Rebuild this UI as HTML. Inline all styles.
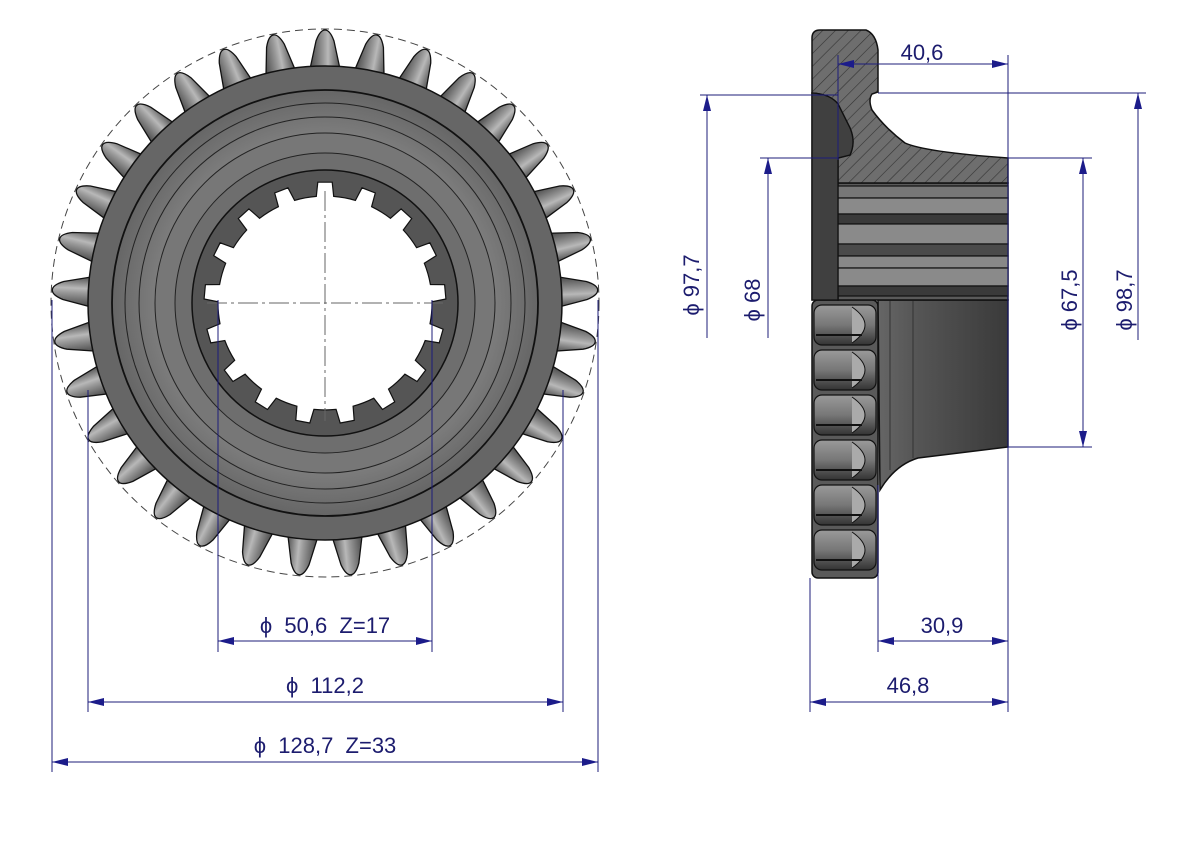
<!DOCTYPE html>
<html><head><meta charset="utf-8"><style>
html,body{margin:0;padding:0;background:#fff;}
svg{display:block;}
text{font-family:"Liberation Sans",sans-serif;fill:#1c1c6e;font-size:22px;}
</style></head><body>
<svg id="s" width="1191" height="842" viewBox="0 0 1191 842" xmlns="http://www.w3.org/2000/svg">
<defs>
<linearGradient id="tg" x1="0" x2="1" y1="0" y2="0">
<stop offset="0" stop-color="#4a4a4a"/><stop offset="0.45" stop-color="#9a9a9a"/><stop offset="0.6" stop-color="#b8b8b8"/><stop offset="1" stop-color="#505050"/></linearGradient>
<radialGradient id="bg" cx="0.5" cy="0.5" r="0.5">
<stop offset="0.5" stop-color="#6a6a6a"/><stop offset="0.8" stop-color="#7c7c7c"/><stop offset="1" stop-color="#666"/></radialGradient>
<linearGradient id="hub" x1="0" x2="1" y1="0" y2="0">
<stop offset="0" stop-color="#666"/><stop offset="0.3" stop-color="#555"/><stop offset="1" stop-color="#3a3a3a"/></linearGradient>
<linearGradient id="lobe" x1="0" x2="0" y1="0" y2="1">
<stop offset="0" stop-color="#9a9a9a"/><stop offset="0.5" stop-color="#777"/><stop offset="1" stop-color="#333"/></linearGradient>
<pattern id="hatch" width="9" height="9" patternUnits="userSpaceOnUse" patternTransform="rotate(45)">
<rect width="9" height="9" fill="#6e6e6e"/><line x1="0" y1="0" x2="0" y2="9" stroke="#333" stroke-width="1.2"/></pattern>
<path id="tooth" d="M-15,-234 L-9,-262 Q-5,-273 0,-273 Q5,-273 9,-262 L15,-234 Z" fill="url(#tg)" stroke="#111" stroke-width="1.3"/>
<marker id="a" viewBox="0 0 16 8" refX="16" refY="4" markerWidth="16" markerHeight="8" orient="auto-start-reverse" markerUnits="userSpaceOnUse"><path d="M0,0 L16,4 L0,8 Z" fill="#1c1c8a"/></marker>
</defs>

<g transform="translate(325,303)">
<circle r="274" fill="none" stroke="#444" stroke-width="1" stroke-dasharray="8,5"/>
<g id="teeth"></g>
<circle r="237" fill="#666" stroke="#111" stroke-width="1.5"/>
<circle r="213" fill="url(#bg)" stroke="#111" stroke-width="1.8"/>
<circle r="200" fill="none" stroke="#222" stroke-width="1"/>
<circle r="186" fill="none" stroke="#222" stroke-width="1"/>
<circle r="170" fill="#777" stroke="#222" stroke-width="1"/>
<circle r="150" fill="#6e6e6e" stroke="#222" stroke-width="1"/>
<circle r="133" fill="#555" stroke="#111" stroke-width="1.5"/>
<path id="bore" fill="#fff" stroke="#111" stroke-width="1.2"/>
<line x1="0" y1="-112" x2="0" y2="118" stroke="#666" stroke-width="1" stroke-dasharray="20,4,3,4"/>
<line x1="-118" y1="0" x2="118" y2="0" stroke="#666" stroke-width="1" stroke-dasharray="20,4,3,4"/>
</g>

<rect x="812" y="300" width="66" height="278" rx="6" fill="#5a5a5a" stroke="#111" stroke-width="1.5"/>
<g id="lobes"></g>
<path d="M878,300 L1008,300 L1008,447 L918,458 Q895,465 880,490 L878,300 Z" fill="url(#hub)" stroke="#111" stroke-width="1.5"/>
<line x1="890" y1="300" x2="890" y2="470" stroke="#333" stroke-width="1"/>
<line x1="913" y1="300" x2="913" y2="458" stroke="#333" stroke-width="1"/>
<rect x="812" y="93" width="26" height="207" fill="#3e3e3e" stroke="#111" stroke-width="1.5"/>
<line x1="828" y1="95" x2="828" y2="300" stroke="#666" stroke-width="1"/>
<rect x="838" y="183" width="170" height="117" fill="#5a5a5a" stroke="#111" stroke-width="1.5"/>
<g stroke="#111" stroke-width="1.2">
<rect x="838" y="186" width="170" height="12" fill="#777"/>
<rect x="838" y="198" width="170" height="16" fill="#8a8a8a"/>
<rect x="838" y="214" width="170" height="10" fill="#3a3a3a"/>
<rect x="838" y="224" width="170" height="20" fill="#8a8a8a"/>
<rect x="838" y="244" width="170" height="12" fill="#4a4a4a"/>
<rect x="838" y="256" width="170" height="12" fill="#888"/>
<rect x="838" y="268" width="170" height="18" fill="#8a8a8a"/>
<rect x="838" y="286" width="170" height="10" fill="#3a3a3a"/>
</g>
<path d="M812,38 Q812,30 820,30 L866,30 Q876,34 878,50 L878,92 L872,94 Q868,100 872,110 Q885,128 905,143 Q925,152 1008,158 L1008,183 L838,183 L838,158 L850,155 Q856,142 850,128 L838,104 Q830,94 812,93 Z" fill="url(#hatch)" stroke="#111" stroke-width="1.5"/>
<path d="M812,93 Q830,94 838,104 L850,128 Q856,142 850,155 L838,158 L838,300 L812,300 Z" fill="#404040" stroke="#111" stroke-width="1.3"/>

<g stroke="#1c1c7a" stroke-width="1" fill="none">
<line x1="52" y1="300" x2="52" y2="772"/><line x1="598" y1="300" x2="598" y2="772"/>
<line x1="52" y1="762" x2="598" y2="762" marker-start="url(#a)" marker-end="url(#a)"/>
<line x1="88" y1="390" x2="88" y2="712"/><line x1="563" y1="390" x2="563" y2="712"/>
<line x1="88" y1="702" x2="563" y2="702" marker-start="url(#a)" marker-end="url(#a)"/>
<line x1="218" y1="300" x2="218" y2="652"/><line x1="432" y1="300" x2="432" y2="652"/>
<line x1="218" y1="641" x2="432" y2="641" marker-start="url(#a)" marker-end="url(#a)"/>
<line x1="838" y1="64" x2="1008" y2="64" marker-start="url(#a)" marker-end="url(#a)"/>
<line x1="838" y1="55" x2="838" y2="160"/>
<line x1="1008" y1="55" x2="1008" y2="712"/>
<line x1="700" y1="95" x2="838" y2="95"/>
<line x1="707" y1="95" x2="707" y2="338" marker-start="url(#a)"/>
<line x1="760" y1="158" x2="838" y2="158"/>
<line x1="768" y1="158" x2="768" y2="338" marker-start="url(#a)"/>
<line x1="1008" y1="158" x2="1092" y2="158"/><line x1="1008" y1="447" x2="1092" y2="447"/>
<line x1="1083" y1="158" x2="1083" y2="447" marker-start="url(#a)" marker-end="url(#a)"/>
<line x1="878" y1="93" x2="1146" y2="93"/>
<line x1="1138" y1="93" x2="1138" y2="340" marker-start="url(#a)"/>
<line x1="878" y1="485" x2="878" y2="652"/>
<line x1="878" y1="641" x2="1008" y2="641" marker-start="url(#a)" marker-end="url(#a)"/>
<line x1="810" y1="578" x2="810" y2="712"/>
<line x1="810" y1="702" x2="1008" y2="702" marker-start="url(#a)" marker-end="url(#a)"/>
</g>
<text x="325" y="753" text-anchor="middle">ϕ&#160; 128,7&#160; Z=33</text>
<text x="325" y="693" text-anchor="middle">ϕ&#160; 112,2</text>
<text x="325" y="633" text-anchor="middle">ϕ&#160; 50,6&#160; Z=17</text>
<text x="922" y="60" text-anchor="middle">40,6</text>
<text x="942" y="633" text-anchor="middle">30,9</text>
<text x="908" y="693" text-anchor="middle">46,8</text>
<text transform="translate(699,285) rotate(-90)" text-anchor="middle">ϕ 97,7</text>
<text transform="translate(760,300) rotate(-90)" text-anchor="middle">ϕ 68</text>
<text transform="translate(1077,300) rotate(-90)" text-anchor="middle">ϕ 67,5</text>
<text transform="translate(1132,300) rotate(-90)" text-anchor="middle">ϕ 98,7</text>
</svg>
<script>
var ns="http://www.w3.org/2000/svg",t=document.getElementById("teeth");
for(var i=0;i<33;i++){var u=document.createElementNS(ns,"use");u.setAttribute("href","#tooth");u.setAttribute("transform","rotate("+(i*360/33)+")");t.appendChild(u);}
var d="",n=17;
function p(r,a){return (r*Math.sin(a)).toFixed(1)+","+(-r*Math.cos(a)).toFixed(1);}
for(var i=0;i<n;i++){var a0=i*2*Math.PI/n,w=2*Math.PI/n;
d+=(i?"L":"M")+p(107,a0-w*0.22)+"L"+p(121,a0-w*0.16)+"L"+p(121,a0+w*0.16)+"L"+p(107,a0+w*0.22)+"A107,107 0 0 1 "+p(107,a0+w*0.78);}
document.getElementById("bore").setAttribute("d",d+"Z");
var L=document.getElementById("lobes"),h="";
for(var y=305;y<575;y+=45){h+='<rect x="814" y="'+y+'" width="62" height="40" rx="8" fill="url(#lobe)" stroke="#111" stroke-width="1.2"/><path d="M852,'+(y+2)+' Q878,'+(y+20)+' 852,'+(y+38)+'" fill="#aaa" stroke="#111" stroke-width="1"/><line x1="816" y1="'+(y+30)+'" x2="862" y2="'+(y+30)+'" stroke="#111" stroke-width="2"/>';}
L.innerHTML=h;
</script>
</body></html>
